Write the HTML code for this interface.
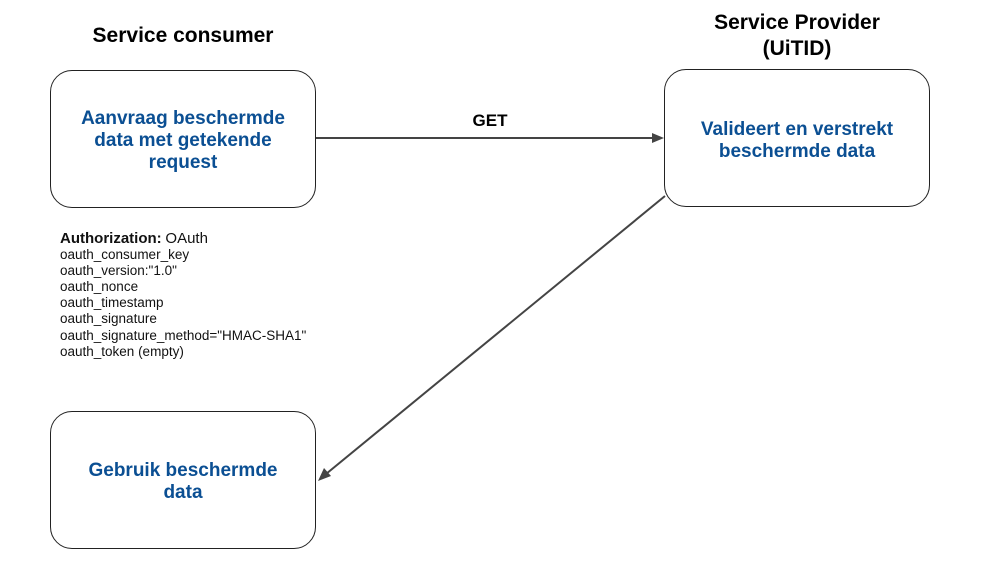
<!DOCTYPE html>
<html><head><meta charset="utf-8"><style>
body{margin:0;width:983px;height:566px;background:#fff;position:relative;overflow:hidden;font-family:"Liberation Sans","DejaVu Sans",sans-serif}
.t{position:absolute;font-weight:bold;font-size:21px;color:#000;text-align:center}
.b{position:absolute;border:1.3px solid #222;border-radius:22px;box-sizing:border-box;display:flex;align-items:center;justify-content:center;text-align:center;color:#0b4f93;font-weight:bold;font-size:19px;line-height:22px}
.n{position:absolute;left:60px;top:231px;font-size:13.5px;line-height:16.1px;color:#111}
</style></head><body>
<div class="t" style="left:40px;width:286px;top:24px">Service consumer</div>
<div class="t" style="left:654px;width:286px;top:10px;line-height:26px">Service Provider<br>(UiTID)</div>
<div class="b" style="left:50px;top:70px;width:266px;height:138px;padding-top:4px">Aanvraag beschermde<br>data met getekende<br>request</div>
<div class="b" style="left:664px;top:69px;width:266px;height:138px;padding-top:0;padding-bottom:0"><div style="margin-top:5px">Valideert en verstrekt<br>beschermde data</div></div>
<div class="b" style="left:50px;top:411px;width:266px;height:138px;padding-top:4px">Gebruik beschermde<br>data</div>
<div class="t" style="left:440px;width:100px;top:111px;font-size:17px">GET</div>
<div class="n"><b style="font-size:15px">Authorization:</b> <span style="font-size:15px">OAuth</span><br>oauth_consumer_key<br>oauth_version:"1.0"<br>oauth_nonce<br>oauth_timestamp<br>oauth_signature<br>oauth_signature_method="HMAC-SHA1"<br>oauth_token (empty)</div>
<svg width="983" height="566" style="position:absolute;left:0;top:0">
<line x1="316" y1="138" x2="654" y2="138" stroke="#444" stroke-width="2"/>
<polygon points="664,138 652,133 652,143" fill="#444"/>
<line x1="665" y1="196" x2="326" y2="474" stroke="#444" stroke-width="2"/>
<polygon points="318,481 324,468 331,476" fill="#444"/>
</svg>
</body></html>
